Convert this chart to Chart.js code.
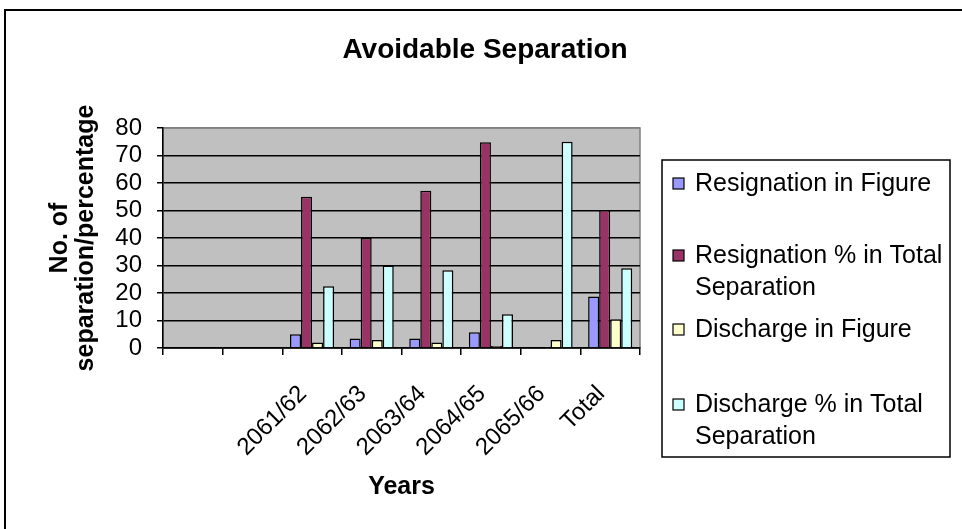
<!DOCTYPE html>
<html>
<head>
<meta charset="utf-8">
<script src="https://cdn.jsdelivr.net/npm/chart.js@4/dist/chart.umd.min.js"></script>
<style>
  body { margin: 0; background: #fff; }
  #wrap { width: 962px; height: 529px; }
</style>
</head>
<body>
<div id="wrap"><canvas id="chart" width="962" height="529"></canvas></div>
<script>
const years = ["", "", "2061/62", "2062/63", "2063/64", "2064/65", "2065/66", "Total"];
const resignFig = [null, null, 5, 3.5, 3.5, 5.7, 0, 18.7];
const resignPct = [null, null, 55, 40, 57.2, 74.8, 0, 50.2];
const dischargeFig = [null, null, 2, 2.9, 2, 0.7, 2.9, 10.5];
const dischargePct = [null, null, 22.5, 30, 28.3, 12.3, 75, 29];
const seriesNames = ["Resignation in Figure", "Resignation % in Total Separation",
                     "Discharge in Figure", "Discharge % in Total Separation"];
const colors = ["#9999FF", "#993366", "#FFFFCC", "#CCFFFF"];

const FONT = "'Liberation Sans', Arial, sans-serif";

// grey plot area, outer frame, title and boxed legend
const frame = {
  id: "frame",
  beforeDraw(chart) {
    const { ctx, chartArea: a } = chart;
    ctx.save();
    ctx.fillStyle = "#C0C0C0";
    ctx.fillRect(a.left, a.top, a.right - a.left, a.bottom - a.top);
    ctx.strokeStyle = "#808080";
    ctx.lineWidth = 1.5;
    ctx.strokeRect(a.left, a.top, a.right - a.left, a.bottom - a.top);
    ctx.restore();
  },
  afterDraw(chart) {
    const ctx = chart.ctx;
    ctx.save();
    // outer frame
    ctx.strokeStyle = "#000";
    ctx.lineWidth = 2;
    ctx.beginPath();
    ctx.moveTo(5, 529);
    ctx.lineTo(5, 10);
    ctx.lineTo(962, 10);
    ctx.stroke();

    // title
    ctx.fillStyle = "#000";
    ctx.font = "bold 28px " + FONT;
    ctx.textAlign = "center";
    ctx.textBaseline = "alphabetic";
    ctx.fillText("Avoidable Separation", 485, 58);

    // legend
    ctx.textAlign = "left";
    ctx.lineWidth = 1.5;
    ctx.strokeRect(662, 160, 288, 297);
    ctx.font = "25px " + FONT;
    ctx.textBaseline = "middle";
    const itemY = [184, 256, 330, 405];
    const gap = 32;
    chart.data.datasets.forEach((ds, i) => {
      const y = itemY[i];
      ctx.fillStyle = ds.backgroundColor;
      ctx.fillRect(673, y - 6, 11, 11);
      ctx.strokeStyle = "#000";
      ctx.lineWidth = 1.2;
      ctx.strokeRect(673, y - 6, 11, 11);
      // wrap label to the box width
      const words = ds.label.split(" ");
      const lines = [];
      let cur = "";
      words.forEach(w => {
        const t = cur ? cur + " " + w : w;
        if (ctx.measureText(t).width > 254 && cur) { lines.push(cur); cur = w; }
        else cur = t;
      });
      lines.push(cur);
      ctx.fillStyle = "#000";
      lines.forEach((ln, j) => ctx.fillText(ln, 695, y + j * gap));
    });
    ctx.restore();
  }
};

new Chart(document.getElementById("chart"), {
  type: "bar",
  data: {
    labels: years,
    datasets: [resignFig, resignPct, dischargeFig, dischargePct].map((d, i) => ({
      label: seriesNames[i],
      data: d,
      backgroundColor: colors[i],
      borderColor: "#000",
      borderWidth: 1.5,
      categoryPercentage: 0.74,
      barPercentage: 1
    }))
  },
  options: {
    responsive: false,
    animation: false,
    layout: { padding: { top: 128, right: 322, left: 0, bottom: 0 } },
    plugins: {
      legend: { display: false },
      tooltip: { enabled: false }
    },
    scales: {
      x: {
        afterFit(s) { s.height = 181; },
        grid: { drawOnChartArea: false, drawTicks: true, tickLength: 7, tickColor: "#000", lineWidth: 1.5 },
        border: { color: "#000", width: 1.5 },
        ticks: {
          color: "#000", font: { family: FONT, size: 24 },
          minRotation: 45, maxRotation: 45, autoSkip: false, padding: 25, labelOffset: -9
        },
        title: {
          display: true, text: "Years", color: "#000",
          font: { family: FONT, size: 25, weight: "bold", lineHeight: 1.2 },
          padding: { top: 0, bottom: 27 }
        }
      },
      y: {
        min: 0, max: 80,
        afterFit(s) { s.width = 163; },
        grid: {
          color: c => (c.tick && c.tick.value === 80 ? "#808080" : "#000"),
          tickColor: "#000", tickLength: 6, lineWidth: 1.5
        },
        border: { color: "#000", width: 1.5 },
        ticks: { stepSize: 10, autoSkip: false, color: "#000", font: { family: FONT, size: 24 }, padding: 15 },
        title: {
          display: true, text: ["No. of", "separation/percentage"], color: "#000",
          font: { family: FONT, size: 25, weight: "bold", lineHeight: 1.04 },
          padding: { top: 47, bottom: 0 }
        }
      }
    }
  },
  plugins: [frame]
});
</script>
</body>
</html>
